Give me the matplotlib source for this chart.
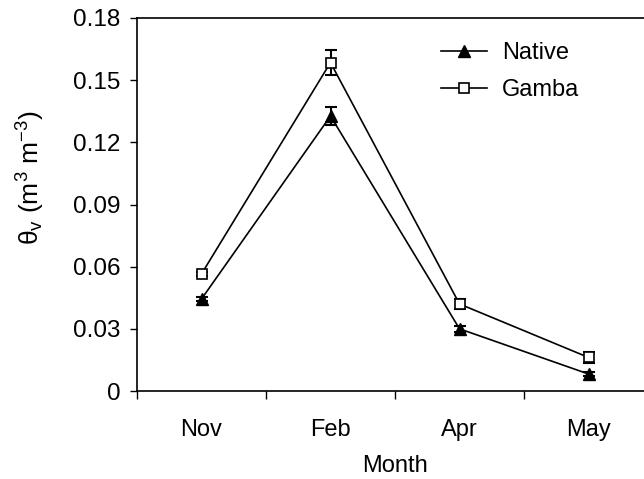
import matplotlib
matplotlib.use("Agg")
import matplotlib.pyplot as plt
import numpy as np

months = ["Nov", "Feb", "Apr", "May"]
native = [0.0444, 0.1327, 0.0300, 0.0082]
native_err = [0.0012, 0.0043, 0.0015, 0.0010]
gamba = [0.0565, 0.1585, 0.0420, 0.0162]
gamba_err = [0.0010, 0.0060, 0.0022, 0.0027]
yticks = [0, 0.03, 0.06, 0.09, 0.12, 0.15, 0.18]
ytick_labels = ["0", "0.03", "0.06", "0.09", "0.12", "0.15", "0.18"]

plt.rcParams['font.family'] = ['Liberation Sans', 'DejaVu Sans']
plt.rcParams['mathtext.fontset'] = 'custom'
plt.rcParams['mathtext.rm'] = 'Liberation Sans'
plt.rcParams['mathtext.it'] = 'Liberation Sans:italic'

fig = plt.figure(figsize=(6.44, 4.79), dpi=100)
ax = fig.add_axes([137/644, 1-391/479, 516/644, 373/479])

x = np.arange(len(months))
ax.errorbar(x, native, yerr=native_err, fmt='none', ecolor='black',
            capsize=4, elinewidth=1.5, capthick=1.5)
ax.errorbar(x, gamba, yerr=gamba_err, fmt='none', ecolor='black',
            capsize=4, elinewidth=1.5, capthick=1.5)
ax.plot(x, native, color='black', lw=1.2, marker='^', ms=8,
        mfc='black', mec='black', label='Native')
ax.plot(x, gamba, color='black', lw=1.2, marker='s', ms=7,
        mfc='white', mec='black', mew=1.2, label='Gamba')

ax.set_xlim(-0.5, 3.5)
ax.set_ylim(0, 0.18)
ax.set_yticks(yticks)
ax.set_yticklabels(ytick_labels, fontsize=17.5)
ax.set_xticks(x)
ax.set_xticklabels(months, fontsize=17)
ax.tick_params(axis='x', which='major', length=0, pad=20)
ax.set_xticks(np.arange(-0.5, 3.6, 1.0), minor=True)
ax.tick_params(axis='x', which='minor', length=6, direction='out', width=1)
ax.tick_params(axis='y', length=5, direction='out', width=1, pad=7)
for s in ax.spines.values():
    s.set_linewidth(1.2)

ax.set_xlabel('Month', fontsize=17, labelpad=10)
ax.set_ylabel('θ$_\\mathrm{v}$ (m$^3$ m$^{-3}$)', fontsize=19)
ax.yaxis.set_label_coords(-0.174, 0.571)

leg = ax.legend(loc='upper left', bbox_to_anchor=(0.558, 0.979), frameon=False,
                fontsize=17, handlelength=1.95, handletextpad=0.6,
                labelspacing=0.62, borderaxespad=0.3)

fig.savefig('out.png', dpi=100)
